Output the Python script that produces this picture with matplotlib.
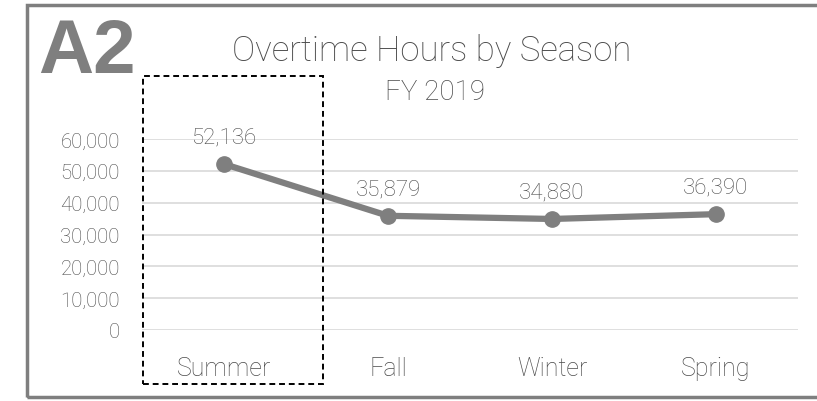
import matplotlib
matplotlib.use("Agg")
import matplotlib.pyplot as plt
from matplotlib.patches import Rectangle
from matplotlib.ticker import FuncFormatter

# ── Data ─────────────────────────────────────────────────────────
seasons = ["Summer", "Fall", "Winter", "Spring"]
hours = [52136, 35879, 34880, 36390]
y_ticks = [0, 10000, 20000, 30000, 40000, 50000, 60000]

LINE_GRAY = "#7f7f7f"
TEXT_GRAY = "#4a4a4a"
GRID_GRAY = "#d9d9d9"
FONT = "Roboto"

W, H = 817, 402
fig = plt.figure(figsize=(W / 100, H / 100), dpi=100)

def fx(px):
    return px / W

def fy(px):
    return 1 - px / H

# axes: x 142..798 px, y 0 at 331 px, 60k at 140 px
ax = fig.add_axes([fx(142), fy(331), fx(798) - fx(142), fy(140) - fy(331)])
x = range(len(seasons))
ax.plot(x, hours, color=LINE_GRAY, lw=4.5, marker="o", ms=11,
        solid_capstyle="round", clip_on=False, zorder=3)
ax.set_xlim(-0.5, len(seasons) - 0.5)
ax.set_ylim(0, 60000)
ax.set_yticks(y_ticks)
ax.yaxis.set_major_formatter(FuncFormatter(lambda v, p: f"{int(v):,}"))
ax.set_xticks(list(x))
ax.set_xticklabels(seasons)
ax.grid(axis="y", color=GRID_GRAY, lw=1.2)
ax.set_axisbelow(True)
for s in ax.spines.values():
    s.set_visible(False)
ax.tick_params(length=0, colors=TEXT_GRAY)
ax.tick_params(axis="y", pad=16, labelsize=14.7)
ax.tick_params(axis="x", pad=19, labelsize=18)
for lab in ax.get_xticklabels() + ax.get_yticklabels():
    lab.set_fontfamily(FONT)
    lab.set_fontweight("light")

for xi, v in zip(x, hours):
    ax.annotate(f"{v:,}", (xi, v), xytext=(0, 12), textcoords="offset points",
                ha="center", va="bottom", fontsize=16, color=TEXT_GRAY,
                family=FONT, fontweight="light", annotation_clip=False)

# ── Titles and badge ─────────────────────────────────────────────
fig.text(fx(432), fy(51), "Overtime Hours by Season", ha="center", va="center",
         fontsize=25, color=TEXT_GRAY, family=FONT, fontweight="light")
fig.text(fx(435), fy(92), "FY 2019", ha="center", va="center",
         fontsize=20, color=TEXT_GRAY, family=FONT, fontweight="light")
fig.text(fx(38), fy(54), "A2", ha="left", va="center", fontsize=55,
         color=LINE_GRAY, family="Liberation Sans", fontweight="bold")

# dashed highlight box around Summer
fig.patches.append(Rectangle((fx(143), fy(385)), fx(323) - fx(143), fy(77) - fy(385),
                             transform=fig.transFigure, fill=False,
                             edgecolor="black", lw=1.4, ls=(0, (3, 2))))

# outer frame (open on the right)
fig.patches.append(Rectangle((fx(27), fy(398)), fx(830) - fx(27), fy(6) - fy(398),
                             transform=fig.transFigure, fill=False,
                             edgecolor=LINE_GRAY, lw=2.5))

fig.savefig("out.png", dpi=100)
